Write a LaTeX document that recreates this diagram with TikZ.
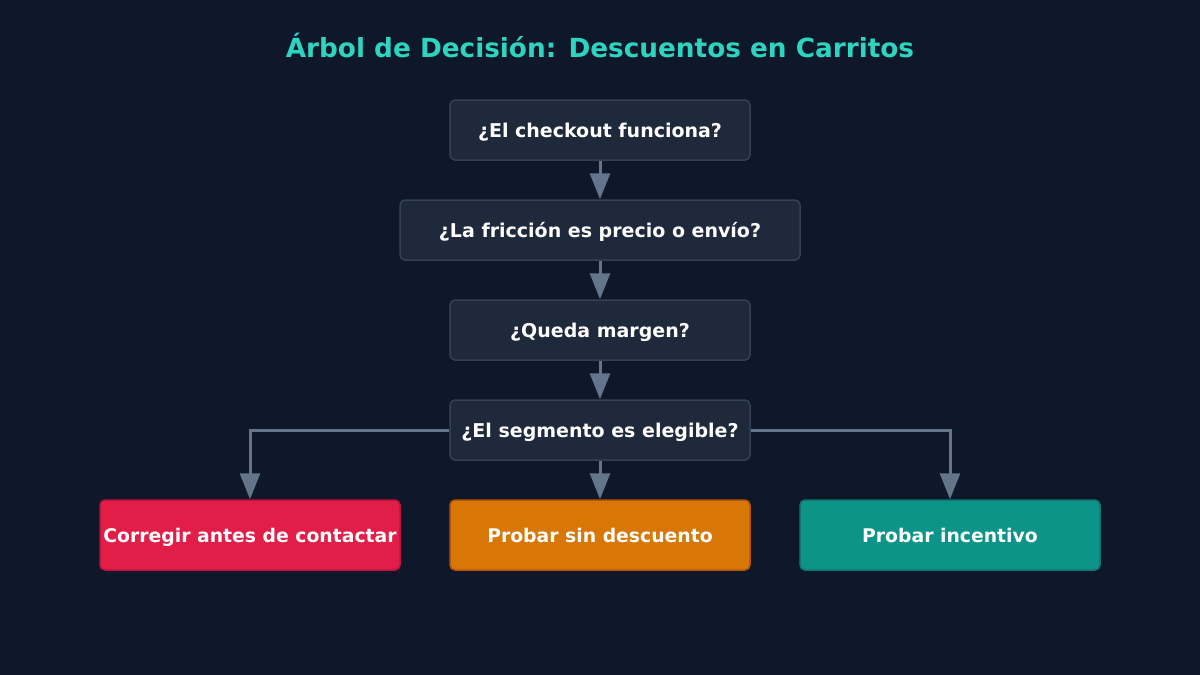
\documentclass[tikz,border=0pt]{standalone}
\usepackage{fontspec}
\setmainfont{DejaVu Sans}
\usetikzlibrary{arrows.meta}
\definecolor{bg}{HTML}{0F172A}
\definecolor{qfill}{HTML}{1E293B}
\definecolor{qborder}{HTML}{334155}
\definecolor{arrowc}{HTML}{64748B}
\definecolor{titlec}{HTML}{2DD4BF}
\definecolor{redf}{HTML}{E11D48}
\definecolor{redb}{HTML}{BE123C}
\definecolor{orf}{HTML}{D97706}
\definecolor{orb}{HTML}{B45309}
\definecolor{tealf}{HTML}{0D9488}
\definecolor{tealb}{HTML}{0F766E}
\begin{document}
\begin{tikzpicture}[x=1pt,y=-1pt,
  qbox/.style={draw=qborder, fill=qfill, line width=1.5pt, rounded corners=5pt, minimum height=60pt, inner sep=0pt, text height=14.5pt, text depth=0pt, text=white, font=\fontsize{19}{22}\selectfont\bfseries},
  leaf/.style={line width=1.5pt, rounded corners=5pt, minimum height=70pt, minimum width=300pt, inner sep=0pt, text height=15pt, text depth=0pt, text=white, font=\fontsize{18.8}{22}\selectfont\bfseries},
  conn/.style={draw=arrowc, line width=3pt, -{Triangle[width=20pt,length=26pt]}}]
\fill[bg] (0,0) rectangle (1200,675);
\useasboundingbox (0,0) rectangle (1200,675);
\node[text=titlec, text height=19pt, text depth=0pt, inner sep=0pt, font=\fontsize{26.3}{30}\selectfont\bfseries] (title) at (600,48) {Árbol de Decisión: Descuentos en Carritos};
\node[qbox, minimum width=300pt] (n1) at (600,130) {¿El checkout funciona?};
\node[qbox, minimum width=400pt] (n2) at (600,230) {¿La fricción es precio o envío?};
\node[qbox, minimum width=300pt] (n3) at (600,330) {¿Queda margen?};
\node[qbox, minimum width=300pt] (n4) at (600,430) {¿El segmento es elegible?};
\node[leaf, draw=redb, fill=redf] (l1) at (250,535) {Corregir antes de contactar};
\node[leaf, draw=orb, fill=orf] (l2) at (600,535) {Probar sin descuento};
\node[leaf, draw=tealb, fill=tealf] (l3) at (950,535) {Probar incentivo};
\draw[conn] (n1) -- (n2);
\draw[conn] (n2) -- (n3);
\draw[conn] (n3) -- (n4);
\draw[conn] (n4) -- (l2);
\draw[conn] (n4.west) -| (l1.north);
\draw[conn] (n4.east) -| (l3.north);
\end{tikzpicture}
\end{document}
